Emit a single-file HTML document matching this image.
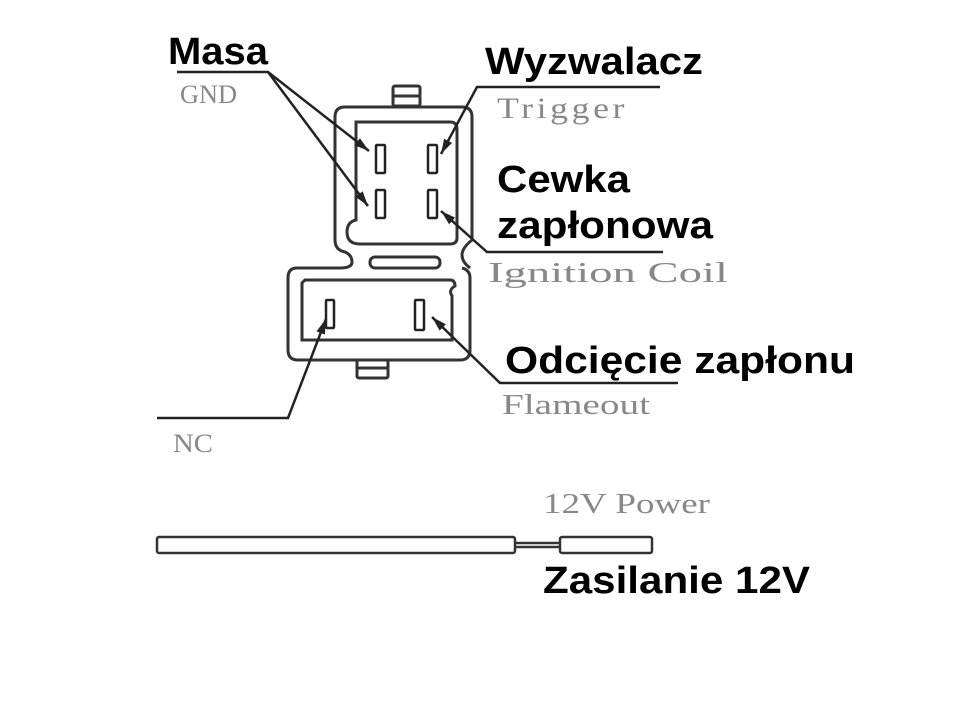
<!DOCTYPE html>
<html><head><style>
body{margin:0;background:#fff;}
svg{display:block}
.b{font-family:"Liberation Sans",sans-serif;font-weight:bold;fill:#000}
.g{font-family:"Liberation Serif",serif;fill:#888}
.m{font-family:"Liberation Serif",serif;fill:#888}
</style></head><body>
<svg width="960" height="720" viewBox="0 0 960 720" xmlns="http://www.w3.org/2000/svg">
<defs><marker id="a" viewBox="0 0 10 10" refX="10" refY="5" markerWidth="6" markerHeight="6" orient="auto"><path d="M0,2 L10,5 L0,8z" fill="#222"/></marker></defs>
<g fill="none" stroke="#333" stroke-width="3">
<rect x="393" y="86" width="27" height="20" rx="2"/>
<line x1="393" y1="96" x2="420" y2="96"/>
<path d="M345,107 H462 Q472,107 472,117 V240 Q462,248 462,255 Q462,262 470,268"/>
<path d="M345,107 Q335,107 335,117 V240 Q335,250 345,252 Q352,255 352,262"/>
<path d="M356,122 H450 Q457,122 457,129 V238 Q457,244 450,244 H360 Q347,244 347,232 Q347,222 356,220 Z"/>
<rect x="370" y="257" width="70" height="11" rx="5"/>
<path d="M352,262 Q352,268 340,268 H297 Q288,268 288,278 V350 Q288,360 298,360 H460 Q470,360 470,350 V278 Q470,270 462,268"/>
<path d="M305,280 H450 Q455,280 455,286 Q448,290 452,296 V340 H302 V283 Z"/>
<rect x="357" y="360" width="31" height="18" rx="2"/>
<line x1="357" y1="368" x2="388" y2="368"/>
</g>
<g fill="none" stroke="#222" stroke-width="2.5">
<rect x="376" y="145" width="9" height="28" rx="1"/>
<rect x="376" y="190" width="9" height="28" rx="1"/>
<rect x="428" y="145" width="9" height="28" rx="1"/>
<rect x="428" y="190" width="9" height="28" rx="1"/>
<rect x="326" y="300" width="8" height="28" rx="1"/>
<rect x="415" y="300" width="9" height="30" rx="1"/>
</g>
<g fill="none" stroke="#222" stroke-width="2.5">
<path d="M177,72 H268 L369,151" marker-end="url(#a)"/>
<path d="M268,72 L368,206" marker-end="url(#a)"/>
<path d="M660,87 H477 L441,154" marker-end="url(#a)"/>
<path d="M663,252 H487 L441,211" marker-end="url(#a)"/>
<path d="M678,383 H500 L432,317" marker-end="url(#a)"/>
<path d="M157,418 H288 L326,319" marker-end="url(#a)"/>
</g>
<g fill="none" stroke="#333" stroke-width="2.5">
<rect x="157" y="537" width="358" height="16" rx="2"/>
<rect x="560" y="537" width="92" height="16" rx="2"/>
<line x1="515" y1="543" x2="560" y2="543"/>
<line x1="515" y1="547" x2="560" y2="547"/>
</g>
<text class="b" x="168" y="64" font-size="38" textLength="100" lengthAdjust="spacingAndGlyphs">Masa</text>
<text class="g" x="180" y="103" font-size="26" textLength="57" lengthAdjust="spacingAndGlyphs">GND</text>
<text class="b" x="485" y="74" font-size="38" textLength="218" lengthAdjust="spacingAndGlyphs">Wyzwalacz</text>
<text class="m" x="497" y="118" font-size="30" textLength="131" lengthAdjust="spacingAndGlyphs" letter-spacing="3">Trigger</text>
<text class="b" x="497" y="192" font-size="38" textLength="133" lengthAdjust="spacingAndGlyphs">Cewka</text>
<text class="b" x="497" y="238" font-size="38" textLength="216" lengthAdjust="spacingAndGlyphs">zapłonowa</text>
<text class="m" x="488" y="282" font-size="29" textLength="240" lengthAdjust="spacingAndGlyphs">Ignition Coil</text>
<text class="b" x="505" y="373" font-size="38" textLength="350" lengthAdjust="spacingAndGlyphs">Odcięcie zapłonu</text>
<text class="m" x="502" y="414" font-size="29" textLength="148" lengthAdjust="spacingAndGlyphs">Flameout</text>
<text class="g" x="173" y="452" font-size="26" textLength="40" lengthAdjust="spacingAndGlyphs">NC</text>
<text class="m" x="543" y="513" font-size="29" textLength="167" lengthAdjust="spacingAndGlyphs">12V Power</text>
<text class="b" x="543" y="593" font-size="38" textLength="267" lengthAdjust="spacingAndGlyphs">Zasilanie 12V</text>
</svg>
</body></html>
